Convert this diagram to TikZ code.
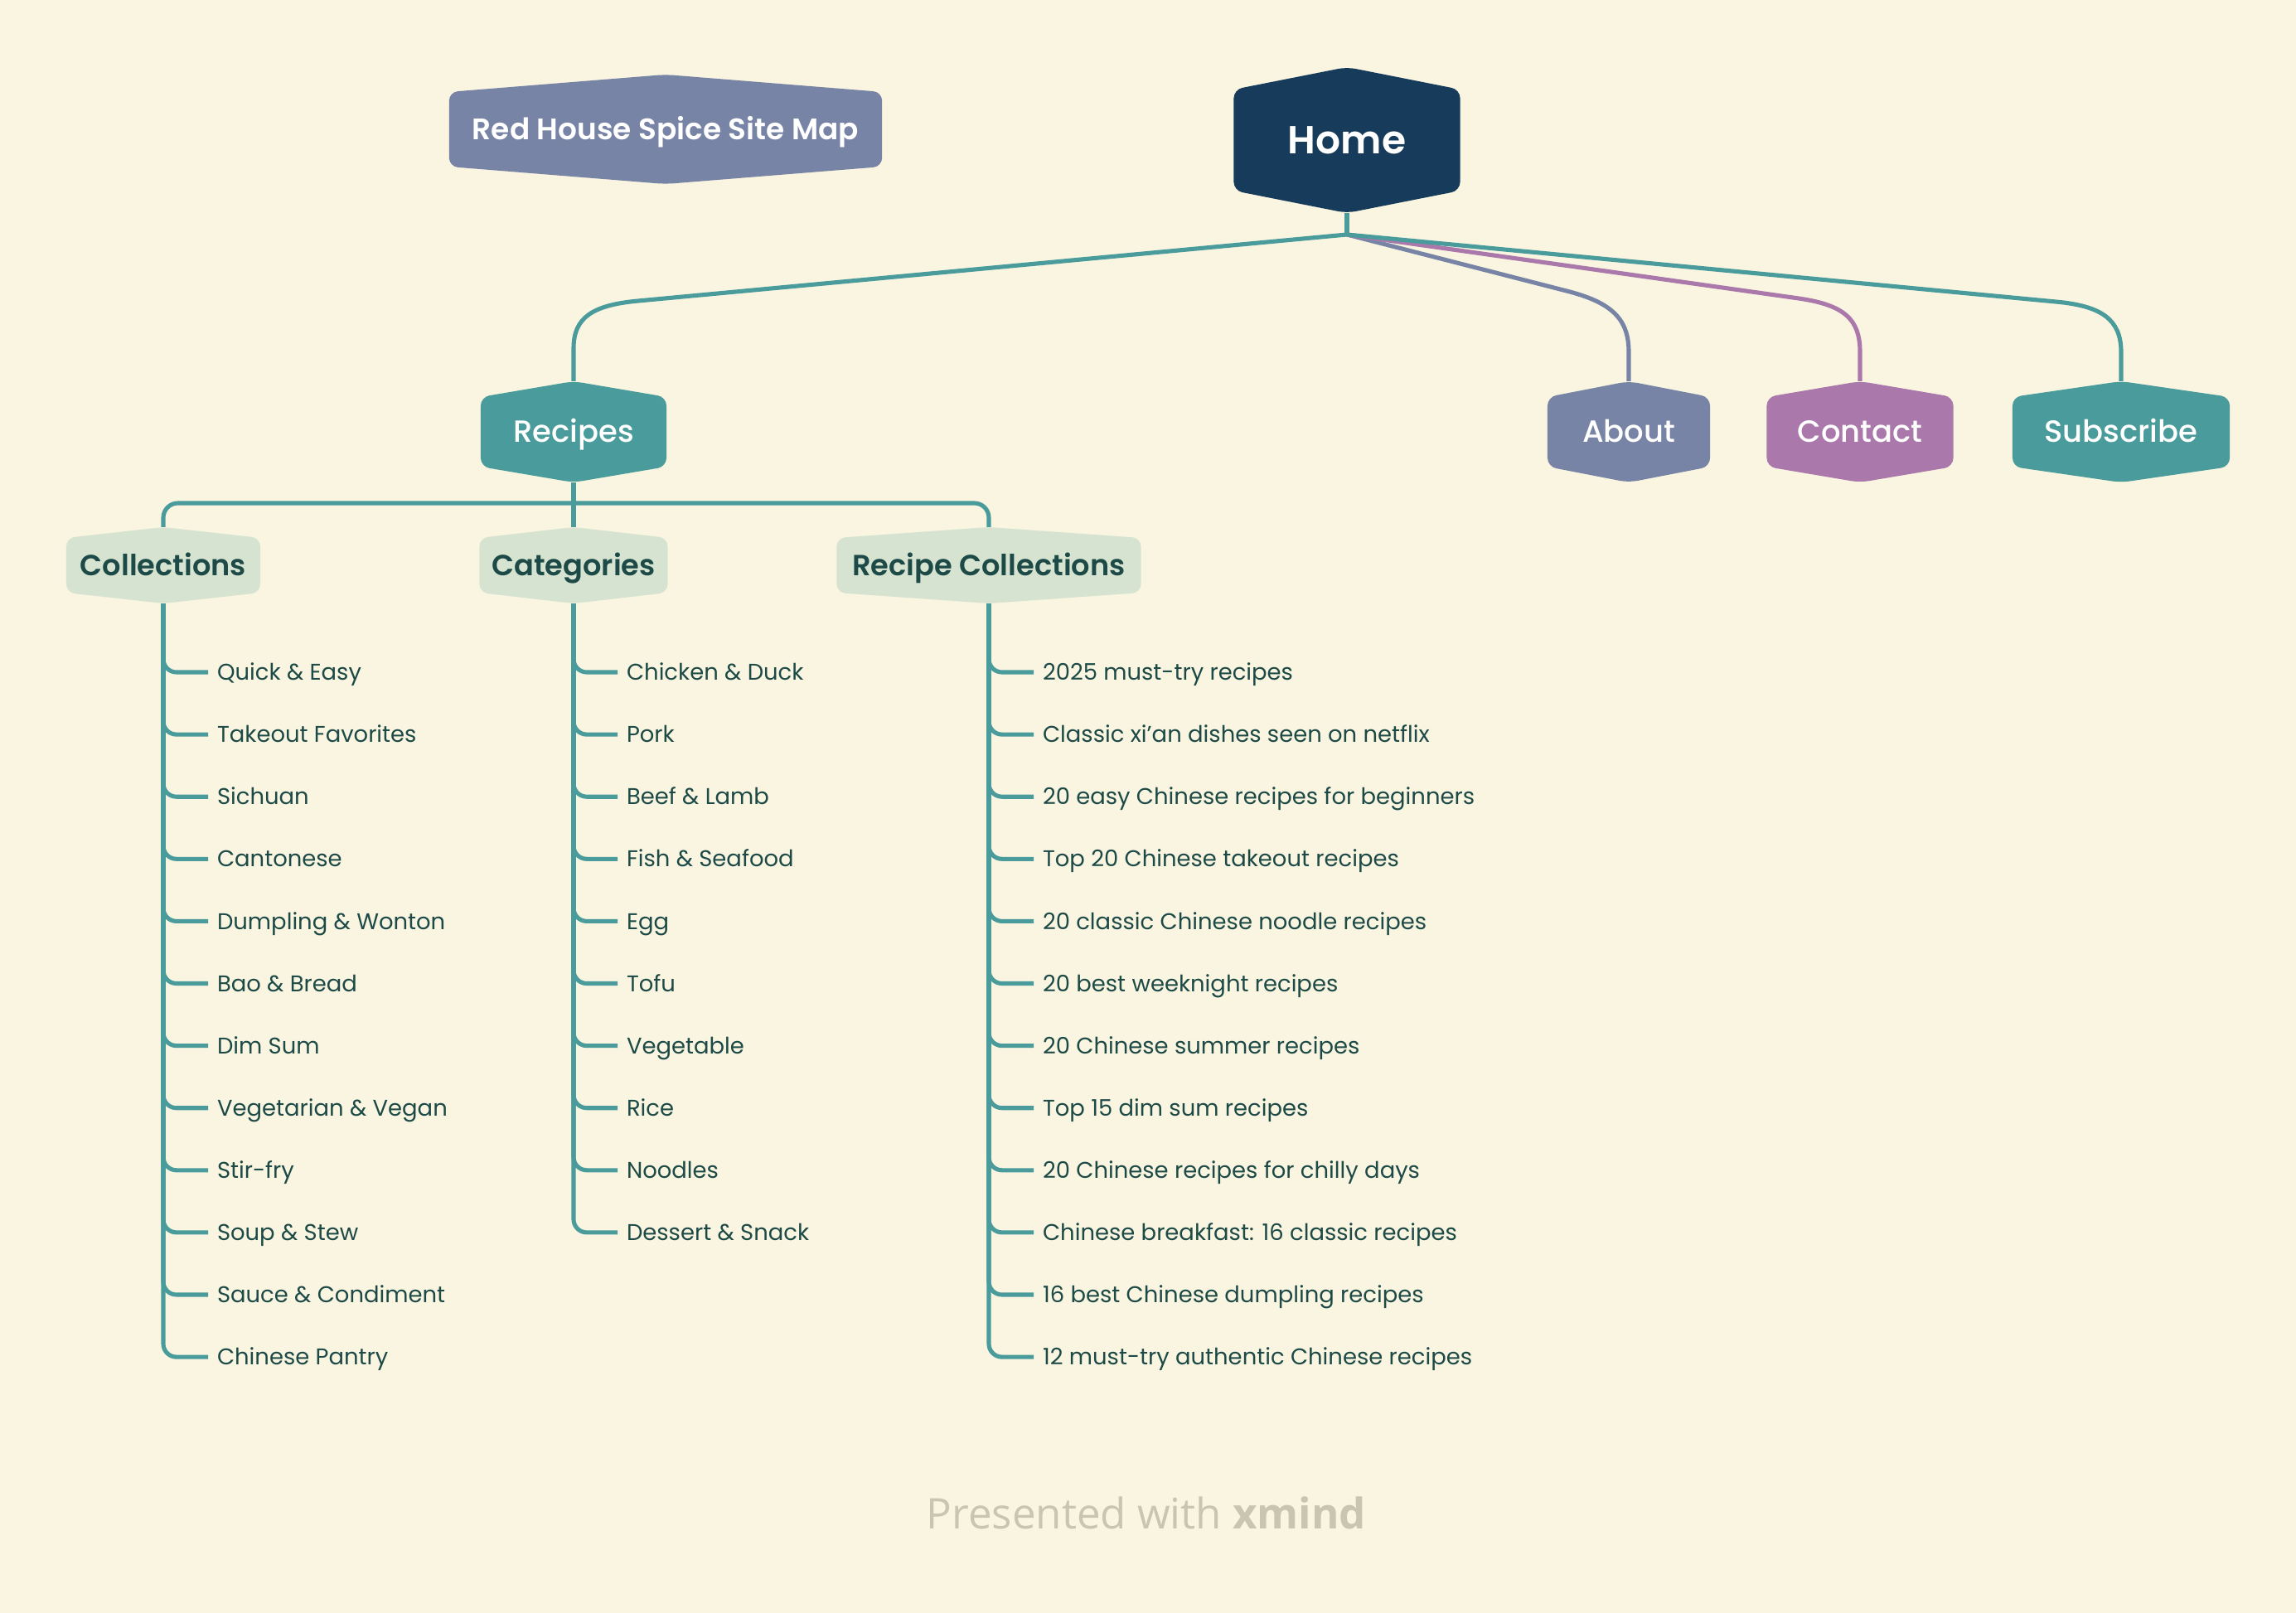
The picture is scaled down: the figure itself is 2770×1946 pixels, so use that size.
\documentclass[tikz,border=0pt]{standalone}
\usepackage{fontspec}
\setmainfont{Poppins}[BoldFont={Poppins SemiBold}]
\newfontfamily\medfont{Poppins Medium}
\newfontfamily\footfont{Open Sans}
\usetikzlibrary{calc}
\definecolor{bg}{HTML}{F9F5E0}
\definecolor{teal}{HTML}{4A9B9B}
\definecolor{slate}{HTML}{7884A5}
\definecolor{mauve}{HTML}{AA78AA}
\definecolor{navy}{HTML}{173C5B}
\definecolor{sage}{HTML}{D6E3D1}
\definecolor{ink}{HTML}{1D4A47}
\definecolor{foot}{HTML}{C8C6B1}
\tikzset{
  hexp/.code={\def\hexp{#1}},
  hexbox/.style={inner sep=0pt, outer sep=0pt, align=center,
    path picture={\fill[#1, rounded corners=3pt]
      ([yshift=-\hexp]path picture bounding box.north west) --
      (path picture bounding box.north) --
      ([yshift=-\hexp]path picture bounding box.north east) --
      ([yshift=\hexp]path picture bounding box.south east) --
      (path picture bounding box.south) --
      ([yshift=\hexp]path picture bounding box.south west) -- cycle;}},
  lvlone/.style={hexbox=#1, hexp=0.19cm, minimum height=1.22cm, text=white,
    text height=7.3pt, text depth=0pt,
    font=\medfont\fontsize{10.5}{12}\selectfont},
  lvltwo/.style={hexbox=sage, hexp=0.13cm, minimum height=0.92cm, text=ink,
    text height=7pt, text depth=0pt,
    font=\bfseries\fontsize{10}{12}\selectfont},
  item/.style={anchor=west, inner xsep=0.11cm, inner ysep=0pt, outer sep=0pt,
    text=ink, text height=5.5pt, text depth=0pt, font=\fontsize{7.8}{10}\selectfont},
  link/.style={draw=teal, line width=1.45pt, rounded corners=4.5pt},
  conn/.style={line width=1.45pt}
}
\begin{document}
\begin{tikzpicture}[x=0.01cm, y=-0.01cm]
\fill[bg] (0,0) rectangle (2770,1946);
\useasboundingbox (0,0) rectangle (2770,1946);

% title
\node[hexbox=slate, hexp=0.21cm, minimum width=5.22cm, minimum height=1.32cm,
  text=white, text height=7.1pt, text depth=0pt,
  font=\bfseries\fontsize{10.2}{12}\selectfont] (title) at (803,156) {Red House Spice Site Map};

% home
\node[hexbox=navy, hexp=0.27cm, minimum width=2.73cm, minimum height=1.76cm,
  text=white, text height=9.4pt, text depth=0pt,
  font=\bfseries\fontsize{13.4}{16}\selectfont] (home) at (1625,169) {Home};

% level one
\node[lvlone=teal, minimum width=2.24cm] (recipes) at (692,521) {Recipes};
\node[lvlone=slate, minimum width=1.96cm] (about) at (1965,521) {About};
\node[lvlone=mauve, minimum width=2.25cm] (contact) at (2244,521) {Contact};
\node[lvlone=teal, minimum width=2.62cm] (subscribe) at (2559,521) {Subscribe};

% home connectors
\coordinate (hj) at (1625,283);
\draw[conn, teal] (home.south) -- (hj);
\draw[conn, slate] (hj) -- (1890,351) .. controls (1945,365) and (1965,385) .. (1965,425) -- (about.north);
\draw[conn, mauve] (hj) -- (2170,360) .. controls (2225,368) and (2244,385) .. (2244,425) -- (contact.north);
\draw[conn, teal] (hj) -- (2480,364) .. controls (2535,369) and (2559,385) .. (2559,425) -- (subscribe.north);
\draw[conn, teal] (hj) -- (770,363) .. controls (715,368) and (692,383) .. (692,420) -- (recipes.north);

% level two
\node[lvltwo, minimum width=2.34cm] (colls) at (197,682) {Collections};
\node[lvltwo, minimum width=2.27cm] (cats) at (692,682) {Categories};
\node[lvltwo, minimum width=3.67cm] (rcolls) at (1193,682) {Recipe Collections};

\coordinate (bus) at (692,607);
\draw[link] (recipes.south) -- (bus) -- (cats.north);
\draw[link, rounded corners=5pt] (colls.north) |- (bus) -| (rcolls.north);

% lists
\foreach \t [count=\i] in {Quick \& Easy, Takeout Favorites, Sichuan, Cantonese,
  Dumpling \& Wonton, Bao \& Bread, Dim Sum, Vegetarian \& Vegan, Stir-fry,
  Soup \& Stew, Sauce \& Condiment, Chinese Pantry} {
  \node[item] (coll\i) at (251,{811+75.1*(\i-1)}) {\t};
  \draw[link] (colls.south) |- (coll\i.west);
}
\foreach \t [count=\i] in {Chicken \& Duck, Pork, Beef \& Lamb, Fish \& Seafood,
  Egg, Tofu, Vegetable, Rice, Noodles, Dessert \& Snack} {
  \node[item] (cat\i) at (745,{811+75.1*(\i-1)}) {\t};
  \draw[link] (cats.south) |- (cat\i.west);
}
\foreach \t [count=\i] in {2025 must-try recipes, Classic xi'an dishes seen on netflix,
  20 easy Chinese recipes for beginners, Top 20 Chinese takeout recipes,
  20 classic Chinese noodle recipes, 20 best weeknight recipes,
  20 Chinese summer recipes, Top 15 dim sum recipes,
  20 Chinese recipes for chilly days, Chinese breakfast: 16 classic recipes,
  16 best Chinese dumpling recipes, 12 must-try authentic Chinese recipes} {
  \node[item] (rc\i) at (1247,{811+75.1*(\i-1)}) {\t};
  \draw[link] (rcolls.south) |- (rc\i.west);
}

% footer
\node[text=foot, font=\footfont\fontsize{14.5}{18}\selectfont] (footer) at (1383,1825)
  {Presented with \textbf{xmind}};
\end{tikzpicture}
\end{document}
